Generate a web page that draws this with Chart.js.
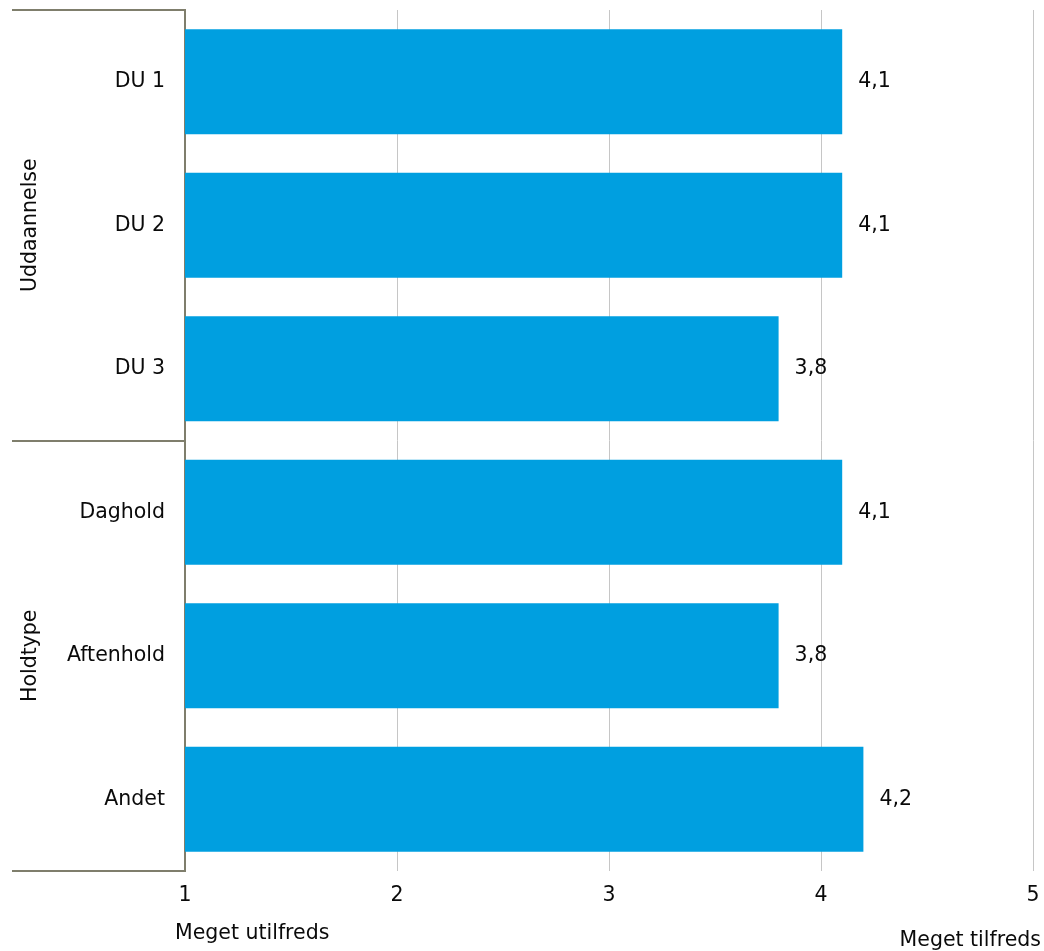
<!DOCTYPE html>
<html>
<head>
<meta charset="utf-8">
<script src="https://cdn.jsdelivr.net/npm/chart.js@4"></script>
<style>
html,body{margin:0;padding:0;background:#fff;}
#wrap{width:1044px;height:951px;position:relative;}
</style>
</head>
<body>
<div id="wrap"><canvas id="c" width="1044" height="951"></canvas></div>
<script>
const categories = ["DU 1", "DU 2", "DU 3", "Daghold", "Aftenhold", "Andet"];
const values = [4.1, 4.1, 3.8, 4.1, 3.8, 4.2];
const groups = [
  { label: "Uddaannelse", from: 0, to: 2 },
  { label: "Holdtype", from: 3, to: 5 }
];
const xTickValues = [1, 2, 3, 4, 5];
const xMinLabel = "Meget utilfreds";
const xMaxLabel = "Meget tilfreds";

const FONT = "'DejaVu Sans', Verdana, sans-serif";
const FSIZE = 20.5;
const AXIS_COLOR = "#7f7e6c";
const BAR_COLOR = "#009fe0";
const TEXT_COLOR = "#0a0a0a";

const decorPlugin = {
  id: "decor",
  afterDraw(chart) {
    const ctx = chart.ctx;
    const x = chart.scales.x, y = chart.scales.y;
    const area = chart.chartArea;
    const step = (y.getPixelForValue(1) - y.getPixelForValue(0));
    ctx.save();
    ctx.strokeStyle = AXIS_COLOR;
    ctx.lineWidth = 2;
    const lines = new Set();
    groups.forEach(g => {
      const top = y.getPixelForValue(g.from) - step / 2;
      const bot = y.getPixelForValue(g.to) + step / 2;
      lines.add(Math.round(top)); lines.add(Math.round(bot));
      ctx.save();
      ctx.fillStyle = TEXT_COLOR;
      ctx.font = FSIZE + "px " + FONT;
      ctx.translate(31, (top + bot) / 2);
      ctx.rotate(-Math.PI / 2);
      ctx.textAlign = "center";
      ctx.textBaseline = "middle";
      ctx.fillText(g.label, 0, 0);
      ctx.restore();
    });
    lines.forEach(py => {
      ctx.beginPath();
      ctx.moveTo(12, py);
      ctx.lineTo(area.left, py);
      ctx.stroke();
    });
    ctx.fillStyle = TEXT_COLOR;
    ctx.font = FSIZE + "px " + FONT;
    ctx.textAlign = "left";
    ctx.textBaseline = "middle";
    const meta = chart.getDatasetMeta(0);
    meta.data.forEach((bar, i) => {
      ctx.fillText(values[i].toFixed(1).replace(".", ","), bar.x + 16, bar.y);
    });
    ctx.textAlign = "left";
    ctx.fillText(xMinLabel, x.getPixelForValue(1) - 10, 934);
    ctx.textAlign = "right";
    ctx.fillText(xMaxLabel, x.getPixelForValue(5) + 8, 941);
    ctx.restore();
  }
};

new Chart(document.getElementById("c"), {
  type: "bar",
  data: {
    labels: categories,
    datasets: [{
      data: values,
      backgroundColor: BAR_COLOR,
      borderWidth: 0,
      barPercentage: 0.732,
      categoryPercentage: 1
    }]
  },
  options: {
    indexAxis: "y",
    responsive: false,
    animation: false,
    devicePixelRatio: 1,
    layout: { padding: { top: 10, right: 11, left: 0, bottom: 0 } },
    plugins: { legend: { display: false }, tooltip: { enabled: false } },
    scales: {
      x: {
        min: 1, max: 5,
        afterBuildTicks(scale) { scale.ticks = xTickValues.map(v => ({ value: v })); },
        afterFit(scale) {
          scale.height = 80;
          scale.paddingLeft = 0; scale.paddingRight = 0;
          scale.paddingTop = 0; scale.paddingBottom = 0;
        },
        border: { display: false },
        grid: {
          drawTicks: false,
          color: ctx => (ctx.tick && ctx.tick.value === 1) ? "rgba(0,0,0,0)" : "#c6c6c6",
          lineWidth: 1
        },
        ticks: {
          color: TEXT_COLOR,
          font: { family: FONT, size: FSIZE },
          padding: 12,
          maxRotation: 0
        }
      },
      y: {
        afterFit(scale) {
          scale.width = 185;
          scale.paddingLeft = 0; scale.paddingRight = 0;
          scale.paddingTop = 0; scale.paddingBottom = 0;
        },
        border: { display: true, color: AXIS_COLOR, width: 2 },
        grid: { display: false, drawTicks: false },
        ticks: {
          color: TEXT_COLOR,
          font: { family: FONT, size: FSIZE },
          padding: 20
        }
      }
    }
  },
  plugins: [decorPlugin]
});
</script>
</body>
</html>
